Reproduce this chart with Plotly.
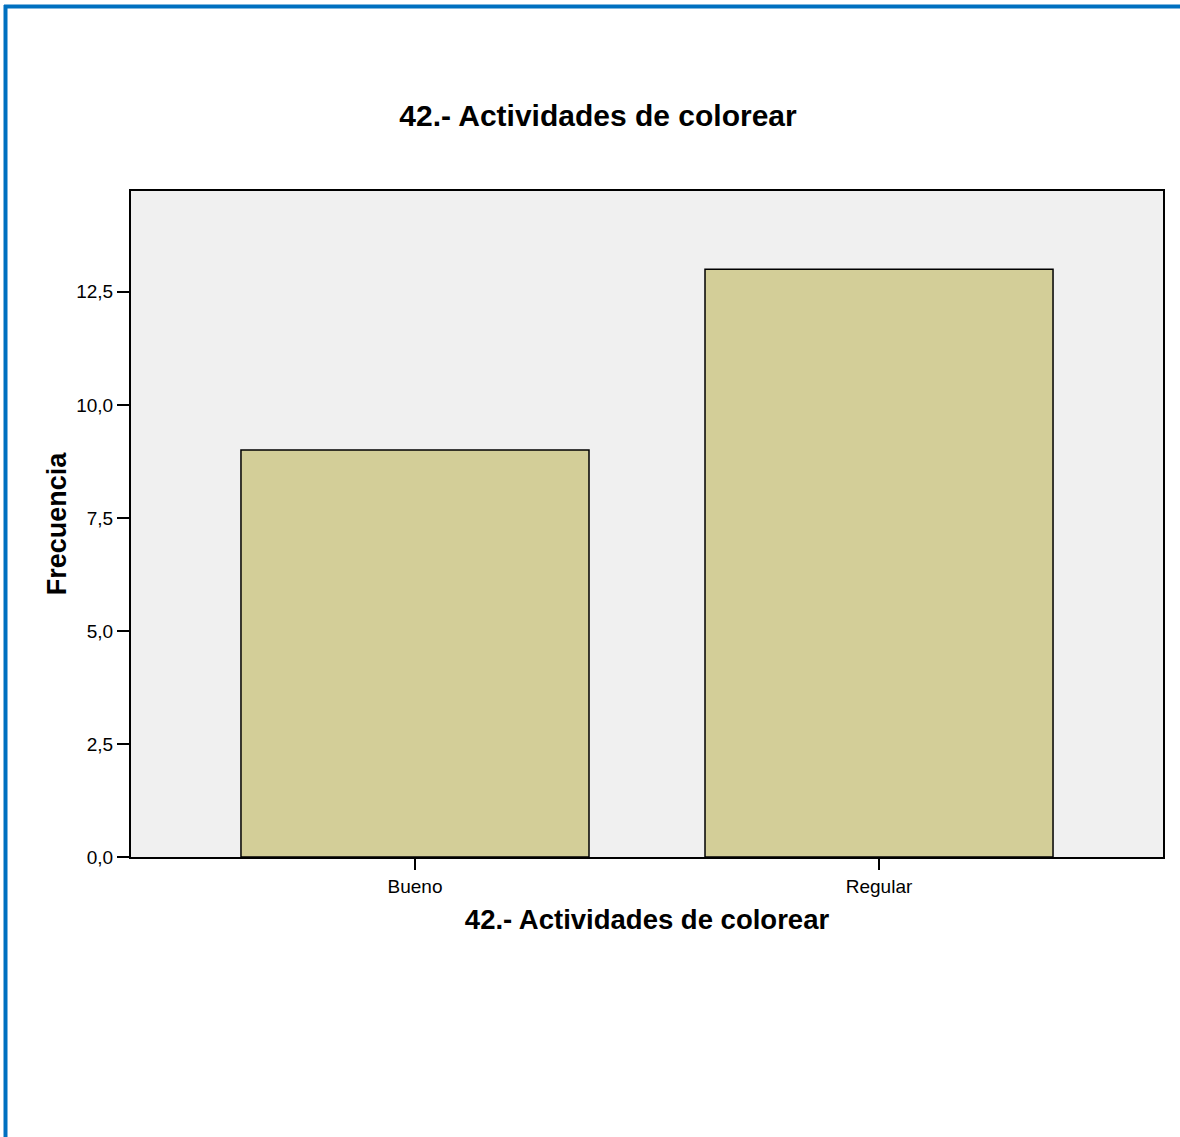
import plotly.graph_objects as go

categories = ["Bueno", "Regular"]
frecuencia = [9, 13]
y_ticks = [0, 2.5, 5, 7.5, 10, 12.5]

W, H = 1180, 1137
L, R, T, B = 131, 17, 191, 280
pw, ph = W - L - R, H - T - B

def px_x(px):
    return (px - L) / pw

def px_y(py):
    return (H - B - py) / ph

fig = go.Figure()
fig.add_trace(go.Bar(
    x=categories, y=frecuencia, width=0.75,
    marker=dict(color="#D3CE98", line=dict(color="#000000", width=1.5)),
))

font = "Liberation Sans, Arial, sans-serif"
fig.update_layout(
    width=W, height=H,
    margin=dict(l=L, r=R, t=T, b=B),
    paper_bgcolor="white", plot_bgcolor="#F0F0F0",
    separators=",.",
    showlegend=False,
    font=dict(family=font, color="#000000"),
    title=dict(text="<b>42.- Actividades de colorear</b>", x=598 / W, xanchor="center",
               y=1 - 115 / H, yanchor="middle", font=dict(size=30, family=font, color="#000")),
    xaxis=dict(range=[-0.612, 1.612], showline=True, linecolor="#000", linewidth=2, mirror=True,
               ticks="outside", ticklen=11, tickwidth=2, tickcolor="#000",
               tickfont=dict(size=19, family=font),
               title=dict(text="<b>42.- Actividades de colorear</b>", font=dict(size=27.5, family=font), standoff=14),
               showgrid=False, zeroline=False),
    yaxis=dict(range=[0, 14.73], tickvals=y_ticks, tickformat=".1f",
               showline=True, linecolor="#000", linewidth=2, mirror=True,
               ticks="outside", ticklen=12, tickwidth=2, tickcolor="#000",
               tickfont=dict(size=19, family=font),
               title=dict(text="<b>Frecuencia</b>", font=dict(size=27, family=font), standoff=2),
               showgrid=False, zeroline=False),
    shapes=[
        dict(type="line", xref="paper", yref="paper", x0=px_x(4), x1=px_x(1180), y0=px_y(6.5), y1=px_y(6.5),
             line=dict(color="#0070C0", width=4)),
        dict(type="line", xref="paper", yref="paper", x0=px_x(5.5), x1=px_x(5.5), y0=px_y(5), y1=px_y(1137),
             line=dict(color="#0070C0", width=4)),
    ],
)

fig.write_html("out.html", config={"displayModeBar": False},
               post_script="document.body.style.margin='0';")
